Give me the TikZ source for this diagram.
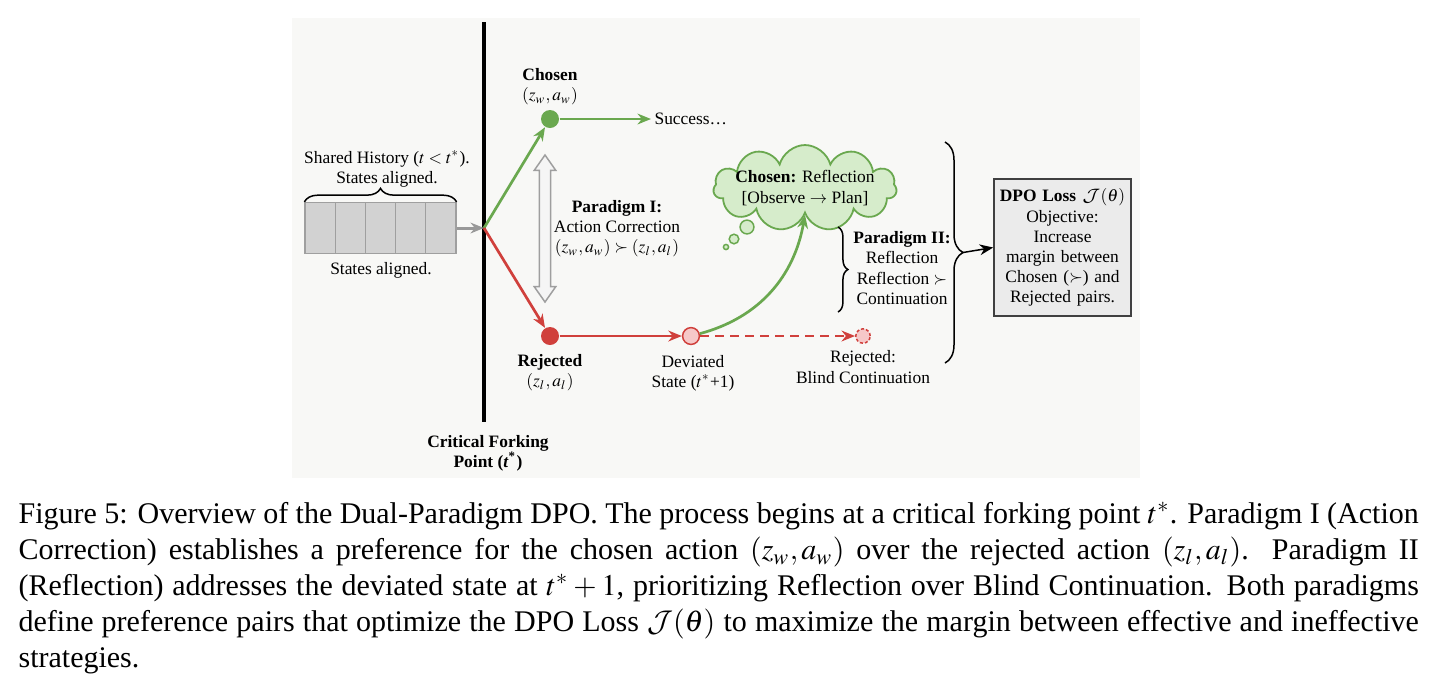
\documentclass[tikz,border=0pt]{standalone}
\usepackage{amsmath,amssymb}
\usepackage{mathptmx}
\usepackage[no-math]{fontspec}
\setmainfont{Liberation Serif}
\DeclareMathAlphabet{\mathcal}{OMS}{cmsy}{m}{n}
\usetikzlibrary{arrows.meta,decorations.pathreplacing,shapes.symbols,shapes.arrows,positioning}
\definecolor{okgreen}{RGB}{106,168,79}
\definecolor{badred}{RGB}{208,64,60}
\definecolor{cloudfill}{RGB}{214,236,203}
\definecolor{palered}{RGB}{246,200,200}
\definecolor{panel}{RGB}{248,248,246}
\newcommand{\figfont}{\fontsize{5.8pt}{6.7pt}\selectfont}
\newcommand{\capfont}{\fontsize{10pt}{12pt}\selectfont}

\begin{document}
\begin{tikzpicture}[
  x=0.3333pt, y=-0.3333pt,
  font=\figfont,
  lbl/.style={align=center, inner sep=1pt},
  dot/.style={circle, minimum size=6pt, inner sep=0pt},
  cell/.style={draw=gray!75, fill=gray!35, minimum width=10.07pt,
    minimum height=17pt, inner sep=0pt},
  tipped/.style={-{Stealth[length=4.5pt,width=3.6pt]}},
  good/.style={tipped, draw=okgreen, line width=0.9pt},
  bad/.style={tipped, draw=badred, line width=0.9pt},
  feed/.style={tipped, draw=gray!80, line width=1pt},
  link/.style={tipped, draw=black, line width=0.5pt},
  forkline/.style={line width=1.3pt},
  brc/.style={decorate, decoration={brace, amplitude=#1}, line width=0.5pt},
  dbl/.style={double arrow, draw=gray!75, fill=black!4, rotate=90,
    minimum height=49pt, minimum width=6.7pt, inner xsep=0pt, inner ysep=1.65pt,
    double arrow head extend=1.7pt, double arrow tip angle=70, line width=0.5pt},
  thought/.style={cloud, cloud puffs=11, cloud ignores aspect,
    draw=okgreen, fill=cloudfill, line width=0.6pt, align=center,
    minimum width=61pt, minimum height=25pt, inner xsep=-2pt, inner ysep=0pt},
  bubble/.style={circle, draw=okgreen, fill=cloudfill, line width=0.5pt,
    inner sep=0pt, minimum size=#1},
  loss/.style={draw=black!75, fill=black!8, line width=0.5pt, align=center,
    text width=44pt, minimum width=45.7pt, minimum height=45.7pt, inner sep=0.8pt}
]
\useasboundingbox (0,0) rectangle (1436,675);
\fill[panel] (292,18) rectangle (1140,478);

\coordinate (forktop) at (484,22);
\coordinate (forkbot) at (484,422);
\coordinate (fork) at (484,228);
\draw[forkline] (forktop) -- (forkbot);
\node[lbl, font=\figfont\bfseries] (forklbl) at (488,453) {Critical Forking\\Point (\textit{t}\textsuperscript{*})};

\foreach \i in {0,...,4}
  \node[cell] (cell\i) at ({320.1+30.2*\i},228) {};
\draw[brc=4.5pt] (cell0.north west) -- (cell4.north east);
\node[lbl] (histlbl) at (387,169) {Shared History ($t<t^*$).\\States aligned.};
\node[lbl] (alignlbl) at (381,270) {States aligned.};
\draw[feed] (cell4.east) -- (fork);

\node[dot, fill=okgreen] (chosen) at (550,119) {};
\node[lbl] (chosenlbl) at (550,87) {\textbf{Chosen}\\$(z_w, a_w)$};
\node[lbl, anchor=west] (success) at (651,119) {Success\ldots};
\node[dot, fill=badred] (rejected) at (550,336) {};
\node[lbl] (rejectedlbl) at (550,373) {\textbf{Rejected}\\$(z_l, a_l)$};
\node[dot, draw=badred, fill=palered, line width=0.5pt, minimum size=5.6pt] (deviated) at (691,336) {};
\node[lbl] (deviatedlbl) at (693,373) {Deviated\\State ($t^*$+1)};
\node[dot, draw=badred, fill=palered, line width=0.5pt, dashed, dash pattern=on 1pt off 0.7pt, minimum size=4.8pt] (blind) at (863,336) {};
\node[lbl] (blindlbl) at (863,367) {Rejected:\\Blind Continuation};

\draw[good] (fork) -- (chosen);
\draw[good] (chosen) -- (success.west);
\draw[bad] (fork) -- (rejected);
\draw[bad] (rejected) -- (deviated);
\draw[bad, dashed, dash pattern=on 3pt off 2pt] (deviated) -- (blind);

\node[dbl] (swap) at (545,228.5) {};
\node[lbl] (p1) at (617,229) {\textbf{Paradigm I:}\\Action Correction\\$(z_w, a_w) \succ (z_l, a_l)$};

\node[thought] (cloud) at (805,188) {\textbf{Chosen:} Reflection\\{[}Observe $\rightarrow$ Plan{]}};
\node[bubble=4.6pt] (b1) at (747,227) {};
\node[bubble=3.2pt] (b2) at (734,239) {};
\node[bubble=1.7pt] (b3) at (726,247) {};
\draw[good] (deviated) to[out=15,in=-100] (cloud.south);

\draw[brc=3.3pt] (838,227) -- (838,312);
\node[lbl] (p2) at (902,268) {\textbf{Paradigm II:}\\Reflection\\Reflection $\succ$\\Continuation};

\draw[brc=6pt] (945,142) -- (945,363);
\coordinate (bigtip) at (963,252.5);
\node[loss] (dpo) at (1062.5,247.5) {\textbf{DPO Loss} $\mathcal{J}(\theta)$\\Objective:\\Increase\\margin between\\Chosen ($\succ$) and\\Rejected pairs.};
\draw[link] (bigtip) -- (dpo.west);

\node[anchor=north west, inner sep=0pt, text width=466.7pt, align=justify, font=\capfont] (caption) at (18,502) {Figure 5: Overview of the Dual-Paradigm DPO. The process begins at a critical forking point $t^*$. Paradigm I (Action\linebreak
Correction) establishes a preference for the chosen action $(z_w, a_w)$ over the rejected action $(z_l, a_l)$. Paradigm II\linebreak
(Reflection) addresses the deviated state at $t^*+1$, prioritizing Reflection over Blind Continuation. Both paradigms\linebreak
define preference pairs that optimize the DPO Loss $\mathcal{J}(\theta)$ to maximize the margin between effective and ineffective\linebreak
strategies.};
\end{tikzpicture}
\end{document}
